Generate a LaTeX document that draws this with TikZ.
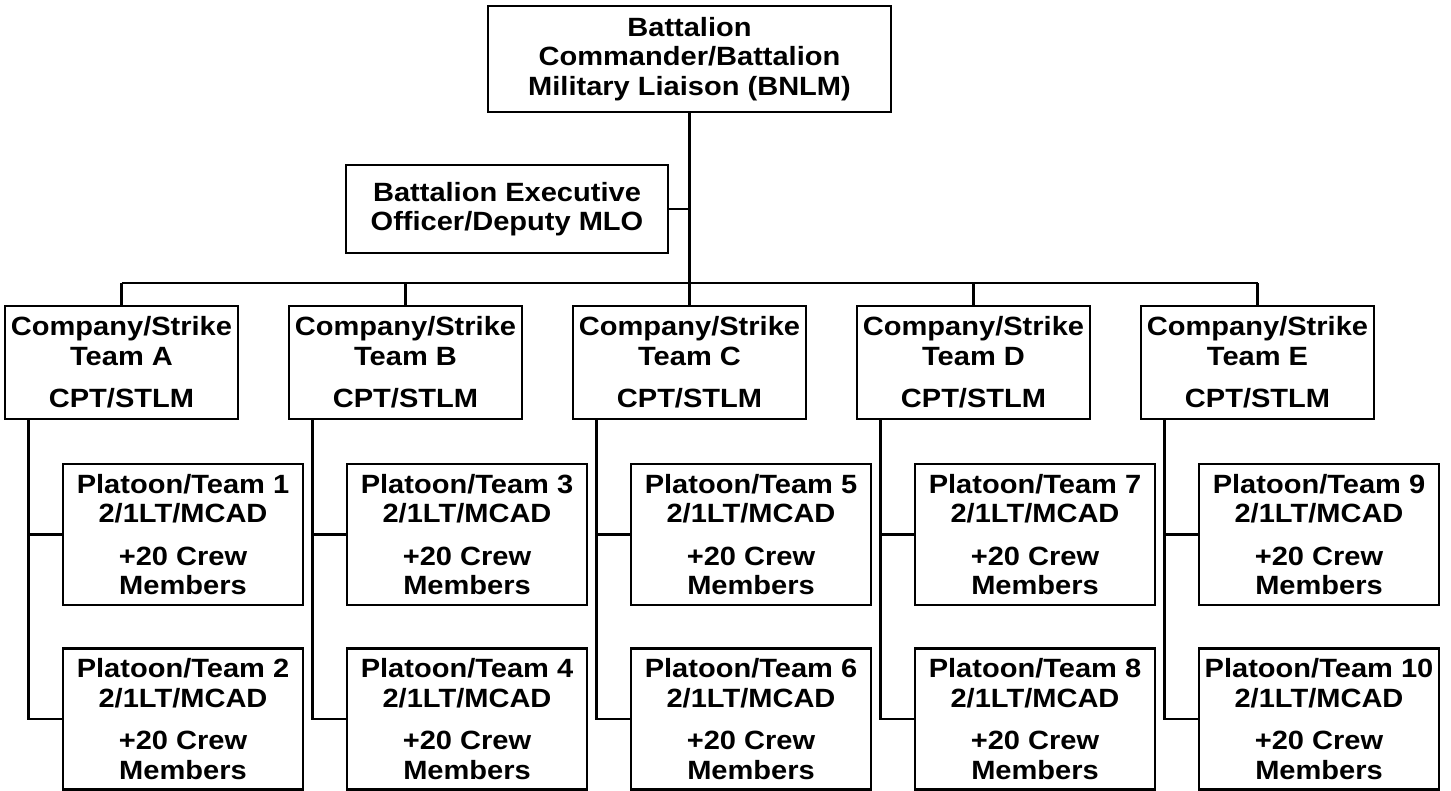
\documentclass[tikz,border=0pt]{standalone}
\usepackage{fontspec}
\setmainfont{Liberation Sans}[FakeStretch=1.1]
\usepackage{tikz}
\tikzset{
  box/.style={draw, line width=1.1pt, align=center, inner sep=1pt,
    font=\bfseries\fontsize{13.2pt}{14.75pt}\selectfont},
  topbox/.style={box, minimum width=201.5pt, minimum height=53pt},
  xobox/.style={box, minimum width=161pt, minimum height=44pt},
  cobox/.style={box, minimum width=116.5pt, minimum height=56.5pt},
  plbox/.style={box, minimum width=120pt, minimum height=70.5pt},
  link/.style={line width=1.1pt}
}

\begin{document}
\begin{tikzpicture}[x=0.5pt, y=-0.5pt]
    \useasboundingbox (0,0) rectangle (1451,791);

    \node[topbox] (bc) at (689.5,59) {Battalion\\Commander/Battalion\\Military Liaison (BNLM)};
    \node[xobox] (xo) at (507,209) {Battalion Executive\\Officer/Deputy MLO};

    \node[cobox] (coA) at (121.5,362.5) {Company/Strike\\Team A\\[6.5pt]CPT/STLM};
    \node[cobox] (coB) at (405.5,362.5) {Company/Strike\\Team B\\[6.5pt]CPT/STLM};
    \node[cobox] (coC) at (689.5,362.5) {Company/Strike\\Team C\\[6.5pt]CPT/STLM};
    \node[cobox] (coD) at (973.5,362.5) {Company/Strike\\Team D\\[6.5pt]CPT/STLM};
    \node[cobox] (coE) at (1257.5,362.5) {Company/Strike\\Team E\\[6.5pt]CPT/STLM};

    \node[plbox] (pl1) at (183,534.5) {Platoon/Team 1\\2/1LT/MCAD\\[6.5pt]+20 Crew\\Members};
    \node[plbox] (pl2) at (183,719) {Platoon/Team 2\\2/1LT/MCAD\\[6.5pt]+20 Crew\\Members};
    \node[plbox] (pl3) at (467,534.5) {Platoon/Team 3\\2/1LT/MCAD\\[6.5pt]+20 Crew\\Members};
    \node[plbox] (pl4) at (467,719) {Platoon/Team 4\\2/1LT/MCAD\\[6.5pt]+20 Crew\\Members};
    \node[plbox] (pl5) at (751,534.5) {Platoon/Team 5\\2/1LT/MCAD\\[6.5pt]+20 Crew\\Members};
    \node[plbox] (pl6) at (751,719) {Platoon/Team 6\\2/1LT/MCAD\\[6.5pt]+20 Crew\\Members};
    \node[plbox] (pl7) at (1035,534.5) {Platoon/Team 7\\2/1LT/MCAD\\[6.5pt]+20 Crew\\Members};
    \node[plbox] (pl8) at (1035,719) {Platoon/Team 8\\2/1LT/MCAD\\[6.5pt]+20 Crew\\Members};
    \node[plbox] (pl9) at (1319,534.5) {Platoon/Team 9\\2/1LT/MCAD\\[6.5pt]+20 Crew\\Members};
    \node[plbox] (pl10) at (1319,719) {Platoon/Team 10\\2/1LT/MCAD\\[6.5pt]+20 Crew\\Members};

    % bus to the companies
    \coordinate (busL) at (121.5,283);
    \coordinate (busR) at (1257.5,283);
    \draw[link] (busL) -- (busR);
    \draw[link] (bc.south) -- (bc.south |- busL);
    \draw[link] (xo.east) -- (xo.east -| bc.south);
    \draw[link] (coA.north) -- (coA.north |- busL);
    \draw[link] (coB.north) -- (coB.north |- busL);
    \draw[link] (coC.north) -- (coC.north |- busL);
    \draw[link] (coD.north) -- (coD.north |- busL);
    \draw[link] (coE.north) -- (coE.north |- busL);

    % companies to platoons
    \draw[link] ([xshift=12.25pt]coA.south west) |- (pl1.west);
    \draw[link] ([xshift=12.25pt]coA.south west) |- (pl2.west);
    \draw[link] ([xshift=12.25pt]coB.south west) |- (pl3.west);
    \draw[link] ([xshift=12.25pt]coB.south west) |- (pl4.west);
    \draw[link] ([xshift=12.25pt]coC.south west) |- (pl5.west);
    \draw[link] ([xshift=12.25pt]coC.south west) |- (pl6.west);
    \draw[link] ([xshift=12.25pt]coD.south west) |- (pl7.west);
    \draw[link] ([xshift=12.25pt]coD.south west) |- (pl8.west);
    \draw[link] ([xshift=12.25pt]coE.south west) |- (pl9.west);
    \draw[link] ([xshift=12.25pt]coE.south west) |- (pl10.west);
\end{tikzpicture}
\end{document}
